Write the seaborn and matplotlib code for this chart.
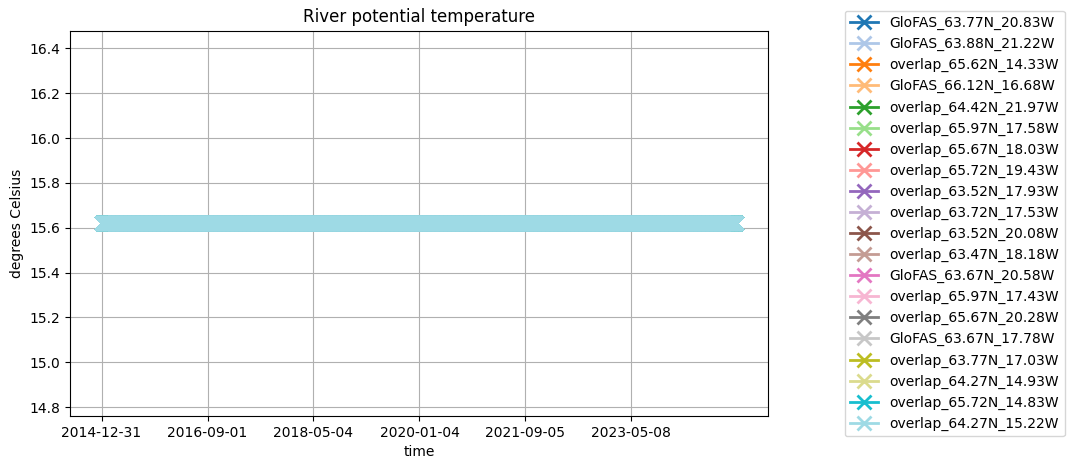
import numpy as np
import pandas as pd
import matplotlib
matplotlib.use('Agg')
import matplotlib.pyplot as plt
import matplotlib.dates as mdates
import seaborn as sns

stations = ['GloFAS_63.77N_20.83W', 'GloFAS_63.88N_21.22W', 'overlap_65.62N_14.33W',
            'GloFAS_66.12N_16.68W', 'overlap_64.42N_21.97W', 'overlap_65.97N_17.58W',
            'overlap_65.67N_18.03W', 'overlap_65.72N_19.43W', 'overlap_63.52N_17.93W',
            'overlap_63.72N_17.53W', 'overlap_63.52N_20.08W', 'overlap_63.47N_18.18W',
            'GloFAS_63.67N_20.58W', 'overlap_65.97N_17.43W', 'overlap_65.67N_20.28W',
            'GloFAS_63.67N_17.78W', 'overlap_63.77N_17.03W', 'overlap_64.27N_14.93W',
            'overlap_65.72N_14.83W', 'overlap_64.27N_15.22W']
# every station reads the same (constant) temperature
station_temp = [15.62] * len(stations)
start_date = '2014-12-31'
end_date = '2024-12-31'
tick_dates = ['2014-12-31', '2016-09-01', '2018-05-04', '2020-01-04', '2021-09-05', '2023-05-08']

dates = pd.date_range(start_date, end_date, freq='D')
colors = plt.get_cmap('tab20').colors

fig, ax = plt.subplots(figsize=(10.74, 4.70), dpi=100)
for ii, name in enumerate(stations):
    df = pd.DataFrame({'time': dates, 'temp': station_temp[ii]})
    sns.lineplot(data=df, x='time', y='temp', ax=ax, color=colors[ii], marker='x',
                 markersize=10, markeredgewidth=2, markeredgecolor=colors[ii],
                 linewidth=2, label=name)

ax.set_xticks(pd.to_datetime(tick_dates))
ax.xaxis.set_major_formatter(mdates.DateFormatter('%Y-%m-%d'))
ax.grid(True)
ax.set_title('River potential temperature')
ax.set_xlabel('time')
ax.set_ylabel('degrees Celsius')
ax.legend(loc='upper left', bbox_to_anchor=(1.1, 1.07))
fig.subplots_adjust(left=0.065, right=0.715, top=0.935, bottom=0.115)
fig.savefig('out.png', dpi=100)
